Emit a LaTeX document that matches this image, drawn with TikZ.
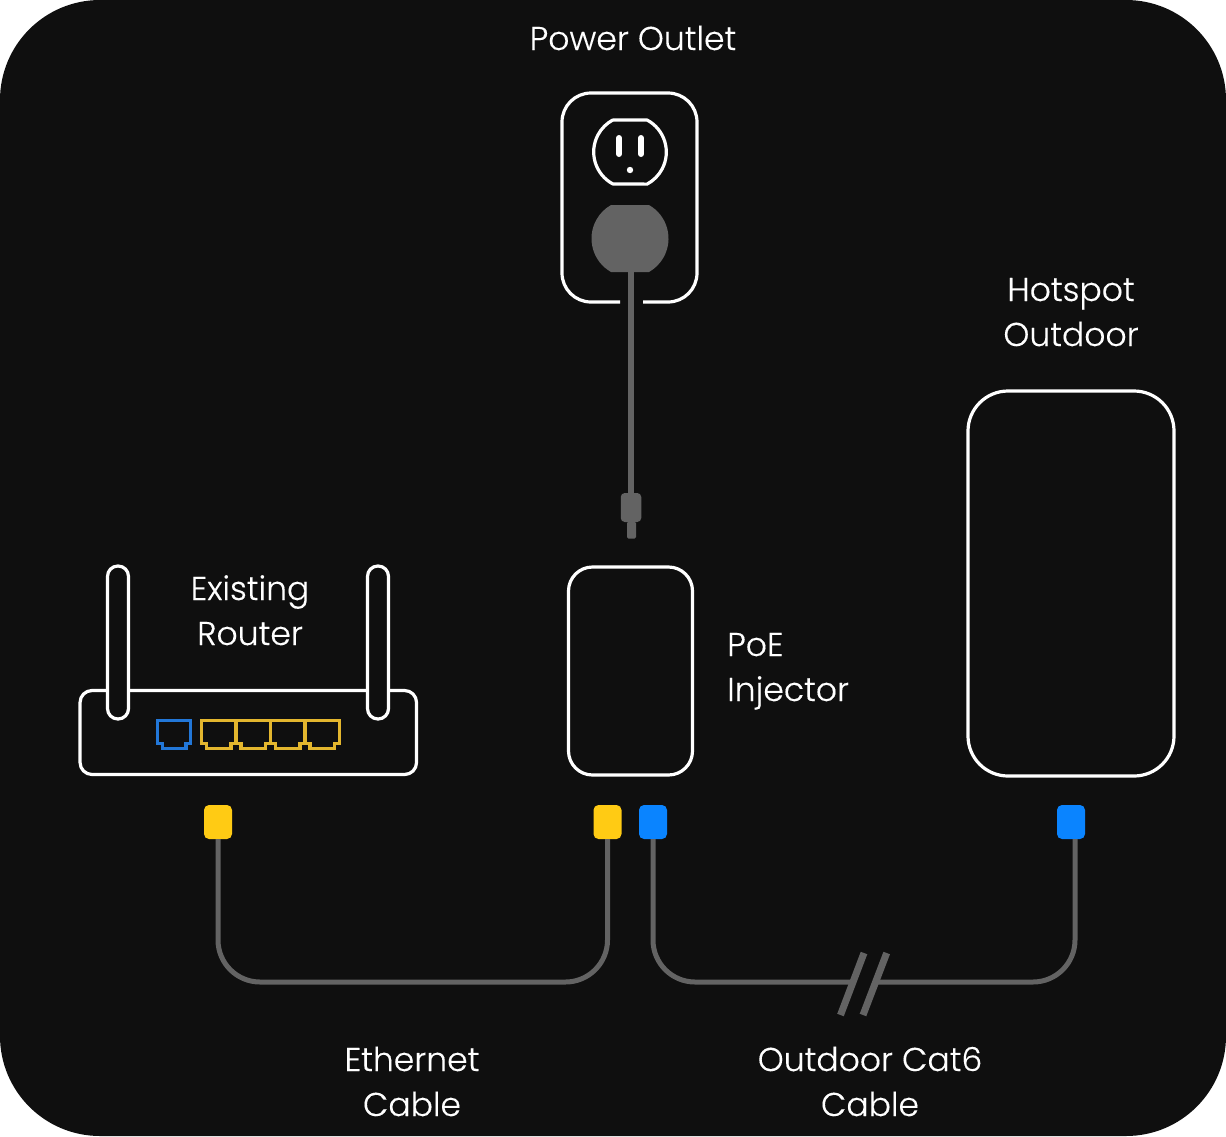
\documentclass[tikz,border=0pt]{standalone}
\usepackage{fontspec}
\setmainfont{Poppins Light}[FakeBold=0.25]
\usetikzlibrary{calc}
\definecolor{panel}{HTML}{0F0F0F}
\definecolor{cable}{HTML}{636363}
\definecolor{portyellow}{HTML}{FFCB14}
\definecolor{portblue}{HTML}{0A84FF}
\definecolor{jackyellow}{HTML}{E3B62E}
\definecolor{jackblue}{HTML}{2277D8}
\tikzset{
  x=1pt,y=-1pt,
  outline/.style={draw=white,line width=3.2pt,line join=round},
  wire/.style={draw=cable,line width=5pt},
  port/.style={minimum width=28pt,minimum height=34pt,inner sep=0pt,rounded corners=5pt},
  body/.style={outline,fill=panel,inner sep=0pt},
  caption/.style={text=white,font=\fontsize{33}{45}\selectfont,align=center,anchor=base,inner sep=0pt},
  slash/.style={draw=cable,line width=7pt},
  jack/.pic={
    \path[line width=3.4pt,line join=miter,pic actions]
      (0,0) -- (34.5,0) -- (34.5,23.5) -- (29.5,23.5) -- (29.5,28.5) -- (5,28.5) -- (5,23.5) -- (0,23.5) -- cycle;
  }
}
\begin{document}
\begin{tikzpicture}
\useasboundingbox (0,0) rectangle (1226,1136);
\fill[white] (0,0) rectangle (1226,1136);
\fill[panel,rounded corners=100pt] (0,0) rectangle (1226,1136);

% Wall plate with its gap for the power lead
\draw[outline,rounded corners=29pt]
  (620,302) -- (562,302) -- (562,93) -- (697,93) -- (697,302) -- (643,302);

% Receptacle face
\draw[outline,fill=panel]
  (612.95,120) -- (647.05,120) arc[start angle=-62,end angle=62,radius=36.3]
  -- (612.95,184) arc[start angle=118,end angle=242,radius=36.3] -- cycle;
\draw[white,line width=6pt,line cap=round] (619,138) -- (619,154) (641,138) -- (641,154);
\fill[white] (630,170) circle[radius=3.2];

% Wall plug head
\node (mains) at (630,238.5) [minimum size=1pt,inner sep=0pt] {};
\fill[cable] (611.04,205) -- (648.96,205) arc[start angle=-60.5,end angle=60.5,radius=38.5]
  -- (611.04,272) arc[start angle=119.5,end angle=240.5,radius=38.5] -- cycle;

% Barrel connector at the end of the power lead
\node (barrel) at (631,507.5) [fill=cable,minimum width=20.5pt,minimum height=29pt,inner sep=0pt,rounded corners=4pt] {};
\node (tip) at (631.5,530) [fill=cable,minimum width=9pt,minimum height=17pt,inner sep=0pt,rounded corners=1.5pt] {};
\coordinate (leadtop) at (631,272);
\draw[wire,line width=5.6pt] (leadtop) -- (barrel.north);

% Router with its two antennas and the row of jacks
\node (router) at (248.3,732.5) [body,rounded corners=12pt,minimum width=336.5pt,minimum height=84pt] {};
\node (antL) at (118,642.5) [body,rounded corners=10.4pt,minimum width=21pt,minimum height=153pt] {};
\node (antR) at (378,642.5) [body,rounded corners=10.4pt,minimum width=21pt,minimum height=153pt] {};
\pic[draw=jackblue,xscale=0.96] at (157.5,720.2) {jack};
\foreach \jx in {201.5,236,270.5,305} \pic[draw=jackyellow] at (\jx,720.2) {jack};

% Injector and outdoor unit
\node (injector) at (630.5,671) [body,rounded corners=24pt,minimum width=124pt,minimum height=208pt] {};
\node (hotspot) at (1071,583.5) [body,rounded corners=40pt,minimum width=206pt,minimum height=385pt] {};

% Cable end ports
\node (ethA) at (218,822) [port,fill=portyellow] {};
\node (ethB) at (607.5,822) [port,fill=portyellow] {};
\node (catA) at (653,822) [port,fill=portblue] {};
\node (catB) at (1071,822) [port,fill=portblue] {};

% Ethernet run
\coordinate (ethRun) at (400,982);
\draw[wire,rounded corners=42pt]
  (ethA.south) -- (ethA.south |- ethRun) -- (ethB.south |- ethRun) -- (ethB.south);

% Outdoor run with its break mark
\coordinate (breakL) at (853,982);
\coordinate (breakR) at (876,982);
\coordinate (catEnd) at ([xshift=4pt]catB.south);
\draw[wire,rounded corners=42pt] (catA.south) -- (catA.south |- breakL) -- (breakL);
\draw[wire,rounded corners=42pt] (breakR) -- (catEnd |- breakR) -- (catEnd);
\draw[slash] (864,953) -- (840.5,1015);
\draw[slash] (886.7,953) -- (863,1015);

% Captions
\node[caption] (capOutlet) at (633,50) {Power Outlet};
\node[caption] (capHotspot) at (1071,346) {Hotspot\\Outdoor};
\node[caption] (capRouter) at (250,645) {Existing\\Router};
\node[caption,align=left,anchor=base west] (capPoe) at (727,701) {PoE\\Injector};
\node[caption] (capEth) at (412,1116) {Ethernet\\Cable};
\node[caption] (capCat) at (870,1116) {Outdoor Cat6\\Cable};
\end{tikzpicture}
\end{document}
